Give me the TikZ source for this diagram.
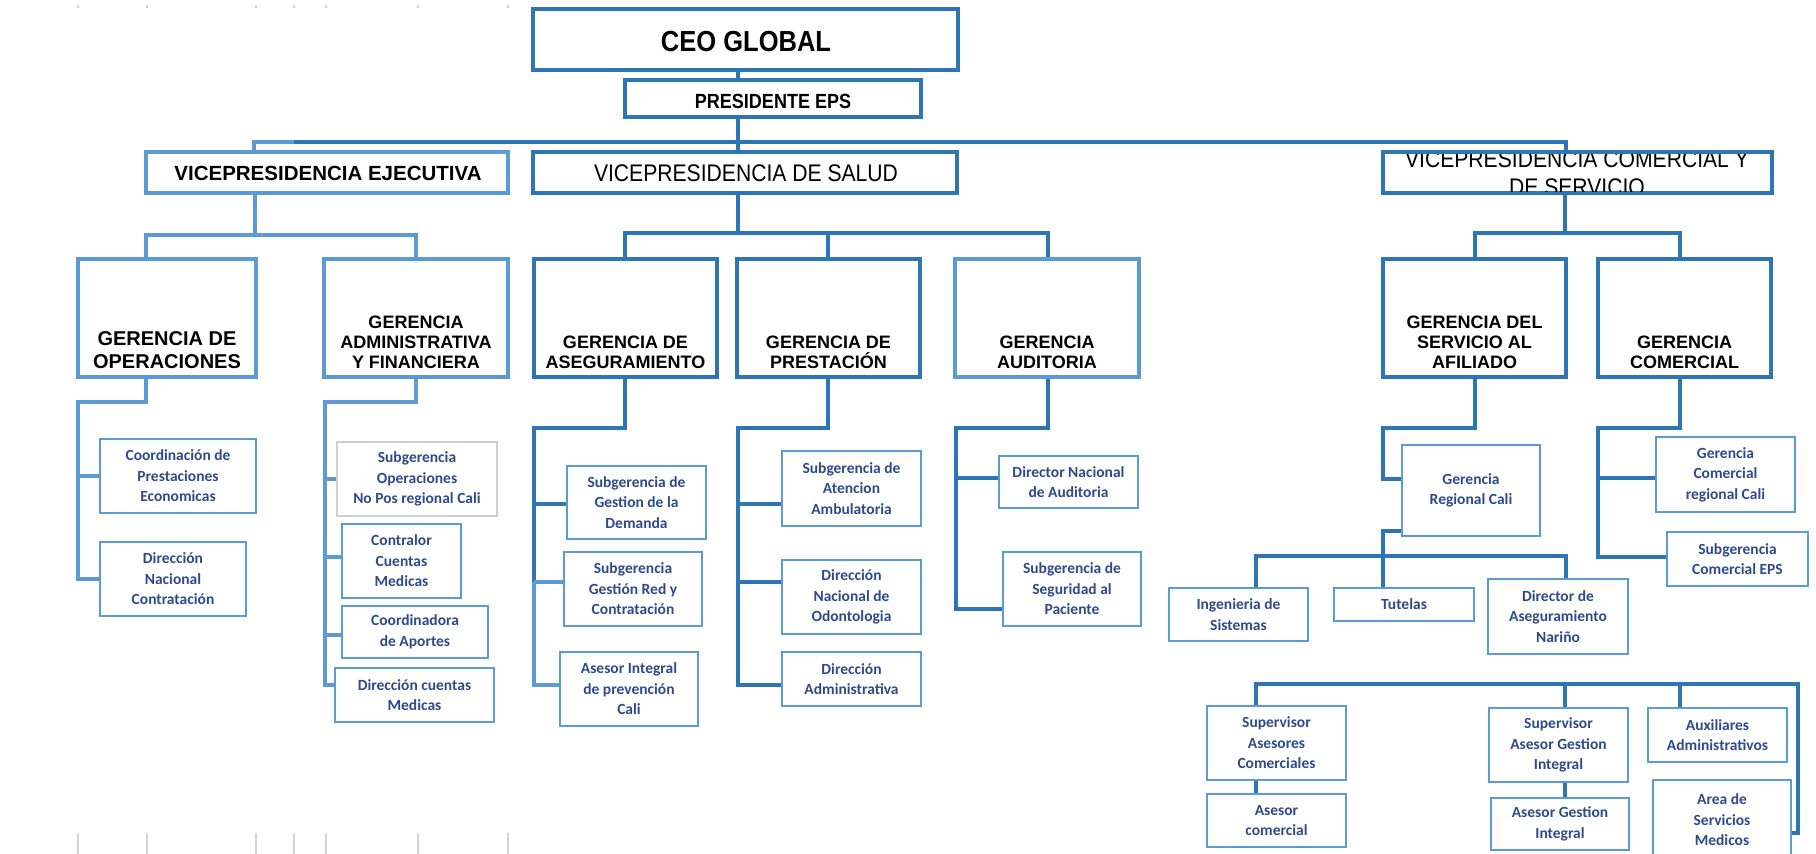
\documentclass[tikz,border=0pt]{standalone}
\usepackage{fontspec}
\setmainfont{Liberation Sans}
\newfontfamily\condf[FakeStretch=0.88]{Liberation Sans}
\newfontfamily\smallf{Carlito}
\usetikzlibrary{fit}
\definecolor{cdk}{HTML}{2E75B6}
\definecolor{clt}{HTML}{5B9BD5}
\definecolor{cnv}{HTML}{2F4A8C}
\definecolor{cgr}{HTML}{CFCFCF}
\definecolor{ctick}{HTML}{D4D4D4}
\tikzset{
  x=1pt, y=-1pt,
  dkl/.style={draw=cdk, line width=3.6pt},
  ltl/.style={draw=clt, line width=3.6pt},
  mboxd/.style={draw=cdk, line width=3.8pt, inner sep=0pt},
  mboxl/.style={draw=clt, line width=3.8pt, inner sep=0pt},
  sbox/.style={draw=clt, line width=2pt, inner sep=0pt},
  gbox/.style={draw=cgr, line width=2pt, inner sep=0pt},
  stxt/.style={font=\smallf\bfseries\fontsize{15.5}{20.5}\selectfont, text=cnv, align=center, inner sep=0pt},
  gtxt/.style={font=\bfseries\fontsize{18}{20}\selectfont, align=center, inner sep=0pt, anchor=south},
  ticks/.style={draw=ctick, line width=1.2pt},
}
\newcommand\MB[6]{\node[#1, fit={(#3,#4) (#5,#6)}] (#2) {};}
\newcommand\SB[7][sbox]{\node[#1, fit={(#3,#4) (#5,#6)}] (#2) {}; \node[stxt] (#2-t) at (#2.center) {#7};}
\begin{document}
\begin{tikzpicture}
\fill[white] (0,0) rectangle (1816,854);
\useasboundingbox (0,0) rectangle (1816,854);

% grid ticks
\foreach \x in {78,147,256,294,326,418,508} {
  \draw[ticks] (\x,5) -- (\x,8);
  \draw[ticks] (\x,833) -- (\x,856);
}

% main boxes
\MB{mboxd}{ceo}{533}{9}{958}{70}
\MB{mboxd}{pres}{625}{80}{921}{117}
\MB{mboxl}{vpe}{146}{152}{508}{193}
\MB{mboxd}{vps}{533}{152}{957}{193}
\MB{mboxd}{vpc}{1383}{152}{1772}{193}
\MB{mboxl}{gop}{78}{259}{256}{377}
\MB{mboxl}{gaf}{324}{259}{508}{377}
\MB{mboxd}{gas}{534}{259}{717}{377}
\MB{mboxd}{gpr}{737}{259}{920}{377}
\MB{mboxl}{gau}{955}{259}{1139}{377}
\MB{mboxd}{gsa}{1383}{259}{1566}{377}
\MB{mboxd}{gco}{1598}{259}{1771}{377}

% main texts
\node[font=\condf\bfseries\fontsize{29}{33}\selectfont, inner sep=0pt] (ceo-t) at (746,42) {CEO GLOBAL};
\node[font=\condf\bfseries\fontsize{20.5}{24}\selectfont, inner sep=0pt] (pres-t) at (773,101) {PRESIDENTE EPS};
\node[font=\bfseries\fontsize{20.5}{24}\selectfont, inner sep=0pt] (vpe-t) at (328,173.5) {VICEPRESIDENCIA EJECUTIVA};
\node[font=\condf\fontsize{24}{28}\selectfont, inner sep=0pt] (vps-t) at (746,173.5) {VICEPRESIDENCIA DE SALUD};
\begin{scope}
  \clip (1385,154) rectangle (1770,191);
  \node[font=\condf\fontsize{24}{28}\selectfont, align=center, inner sep=0pt, anchor=south] (vpc-t) at (1577,196) {VICEPRESIDENCIA COMERCIAL Y\\DE SERVICIO};
\end{scope}
\node[gtxt, font=\bfseries\fontsize{20}{23}\selectfont] (gop-t) at (167,369) {GERENCIA DE\\OPERACIONES};
\node[gtxt] (gaf-t) at (416,369) {GERENCIA\\ADMINISTRATIVA\\Y FINANCIERA};
\node[gtxt] (gas-t) at (625.5,369) {GERENCIA DE\\ASEGURAMIENTO};
\node[gtxt] (gpr-t) at (828.5,369) {GERENCIA DE\\PRESTACIÓN};
\node[gtxt] (gau-t) at (1047,369) {GERENCIA\\AUDITORIA};
\node[gtxt] (gsa-t) at (1474.5,369) {GERENCIA DEL\\SERVICIO AL\\AFILIADO};
\node[gtxt] (gco-t) at (1684.5,369) {GERENCIA\\COMERCIAL};

% small boxes
\SB{op1}{100}{439}{256}{513}{Coordinación de\\Prestaciones\\Economicas}
\SB{op2}{100}{542}{246}{616}{Dirección\\Nacional\\Contratación}
\SB[gbox]{ad1}{337}{442}{497}{516}{Subgerencia\\Operaciones\\No Pos regional Cali}
\SB{ad2}{342}{524}{461}{598}{Contralor\\Cuentas\\Medicas}
\SB{ad3}{342}{606}{488}{658}{Coordinadora\\de Aportes}
\SB{ad4}{335}{668}{494}{722}{Dirección cuentas\\Medicas}
\SB{as1}{567}{466}{706}{539}{Subgerencia de\\Gestion de la\\Demanda}
\SB{as2}{564}{552}{702}{626}{Subgerencia\\Gestión Red y\\Contratación}
\SB{as3}{560}{652}{698}{726}{Asesor Integral\\de prevención\\Cali}
\SB{pr1}{782}{451}{921}{526}{Subgerencia de\\Atencion\\Ambulatoria}
\SB{pr2}{782}{560}{921}{634}{Dirección\\Nacional de\\Odontologia}
\SB{pr3}{782}{652}{921}{706}{Dirección\\Administrativa}
\SB{au1}{999}{456}{1138}{508}{Director Nacional\\de Auditoria}
\SB{au2}{1003}{552}{1141}{626}{Subgerencia de\\Seguridad al\\Paciente}
\SB{rc}{1402}{445}{1540}{536}{Gerencia\\Regional Cali}
\SB{cm1}{1656}{437}{1795}{512}{Gerencia\\Comercial\\regional Cali}
\SB{cm2}{1667}{532}{1808}{586}{Subgerencia\\Comercial EPS}
\SB{ing}{1169}{588}{1308}{641}{Ingenieria de\\Sistemas}
\SB{tut}{1334}{588}{1474}{621}{Tutelas}
\SB{dan}{1488}{579}{1628}{654}{Director de\\Aseguramiento\\Nariño}
\SB{sac}{1207}{706}{1346}{780}{Supervisor\\Asesores\\Comerciales}
\SB{aco}{1207}{794}{1346}{847}{Asesor\\comercial}
\SB{sag}{1489}{708}{1628}{782}{Supervisor\\Asesor Gestion\\Integral}
\SB{agi}{1491}{798}{1629}{850}{Asesor Gestion\\Integral}
\SB{aux}{1648}{708}{1787}{762}{Auxiliares\\Administrativos}
\SB{asm}{1653}{780}{1791}{860}{Area de\\Servicios\\Medicos}

% bus junction coordinates
\coordinate (busL) at (294,142);
\coordinate (busR) at (1566,142);

% top connectors
\draw[dkl] (738,0 |- ceo.south) -- (738,0 |- pres.north);
\draw[dkl] (738,0 |- pres.south) -- (738,0 |- vps.north);
\draw[dkl] (busL) -- (busR) -- (1566,0 |- vpc.north);
\draw[ltl] (254,0 |- vpe.north) |- (busL);

% level 2
\draw[ltl] (255,0 |- vpe.south) -- (255,235);
\draw[ltl] (146,0 |- gop.north) |- (416,235) -- (416,0 |- gaf.north);
\draw[dkl] (738,0 |- vps.south) -- (738,233);
\draw[dkl] (625,0 |- gas.north) |- (1048,233) -- (1048,0 |- gau.north);
\draw[dkl] (828,233) -- (828,0 |- gpr.north);
\draw[dkl] (1565,0 |- vpc.south) -- (1565,233);
\draw[dkl] (1475,0 |- gsa.north) |- (1680,233) -- (1680,0 |- gco.north);

% level 3 - operaciones
\draw[ltl] (146,0 |- gop.south) |- (78,402) |- (op2.west);
\draw[ltl] (78,0 |- op1.west) -- (op1.west);
% administrativa
\draw[ltl] (416,0 |- gaf.south) |- (325,402) -- (325,685) -- (ad4.west |- 0,685);
\draw[ltl] (325,0 |- ad1.west) -- (ad1.west);
\draw[ltl] (325,557) -- (ad2.west |- 0,557);
\draw[ltl] (325,635) -- (ad3.west |- 0,635);
% aseguramiento
\draw[dkl] (625,0 |- gas.south) |- (534,428) -- (534,582);
\draw[dkl] (534,504) -- (as1.west |- 0,504);
\draw[ltl] (534,582) -- (534,685) -- (as3.west |- 0,685);
\draw[ltl] (534,582) -- (as2.west |- 0,582);
% prestacion
\draw[dkl] (828,0 |- gpr.south) |- (738,428) -- (738,685) -- (pr3.west |- 0,685);
\draw[dkl] (738,504) -- (pr1.west |- 0,504);
\draw[dkl] (738,582) -- (pr2.west |- 0,582);
% auditoria
\draw[dkl] (1048,0 |- gau.south) |- (956,428) -- (956,609) -- (au2.west |- 0,609);
\draw[dkl] (956,478) -- (au1.west |- 0,478);
% afiliado
\draw[dkl] (1475,0 |- gsa.south) |- (1383,428) -- (1383,479) -- (rc.west |- 0,479);
\draw[dkl] (rc.west |- 0,531) -- (1383,531) -- (1383,0 |- tut.north);
\draw[dkl] (1256,0 |- ing.north) |- (1566,556) -- (1566,0 |- dan.north);
% comercial
\draw[dkl] (1680,0 |- gco.south) |- (1598,428) -- (1598,557) -- (cm2.west |- 0,557);
\draw[dkl] (1598,478) -- (cm1.west |- 0,478);
% bottom bus
\draw[dkl] (1256,0 |- sac.north) |- (1798,684) |- (asm.east |- 0,833);
\draw[dkl] (1565,684) -- (1565,0 |- sag.north);
\draw[dkl] (1680,684) -- (1680,0 |- aux.north);
\draw[dkl] (1256,0 |- sac.south) -- (1256,0 |- aco.north);
\draw[dkl] (1565,0 |- sag.south) -- (1565,0 |- agi.north);
\end{tikzpicture}
\end{document}
